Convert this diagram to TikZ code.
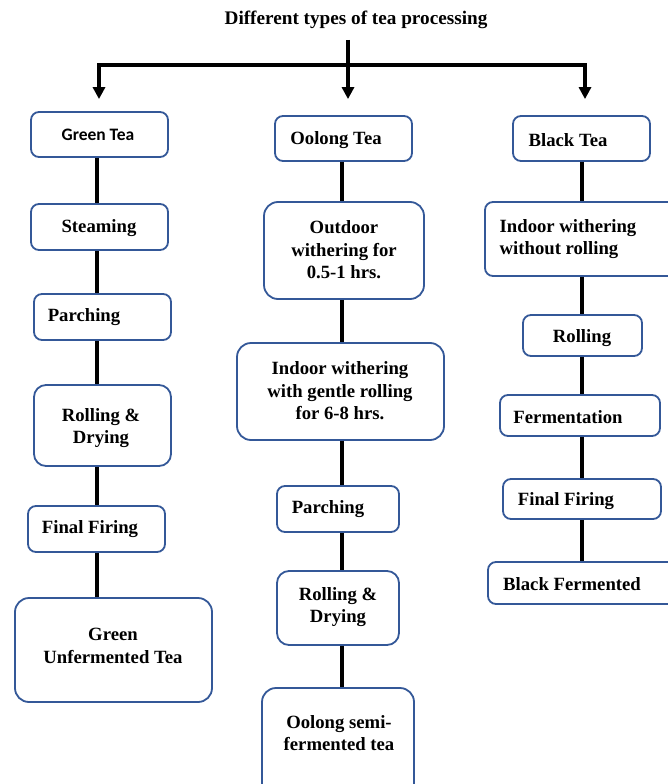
\documentclass[tikz,border=0pt]{standalone}
\usepackage{fontspec}
\setmainfont{Liberation Serif}
\newfontfamily\carlfont{Carlito}
\usetikzlibrary{arrows.meta}
\definecolor{boxblue}{RGB}{52,88,152}
\begin{document}
\begin{tikzpicture}[x=1pt,y=-1pt,
  box/.style={draw=boxblue,line width=1.8pt,rounded corners=8pt,fill=white,inner sep=0pt},
  bigbox/.style={box,rounded corners=14pt},
  lbl/.style={font=\bfseries\fontsize{18.7}{22.5}\selectfont,inner sep=0pt,align=center,yshift=-2pt},
  conn/.style={line width=3.6pt,black},
  arr/.style={conn,-{Triangle[length=12pt,width=12pt]}}]
\useasboundingbox (0,0) rectangle (668,784);
% title
\node[lbl,font=\bfseries\fontsize{19.2}{22}\selectfont] (title) at (356,18) {Different types of tea processing};
\coordinate (t0) at (348,40);
\coordinate (hub) at (348,65);
\coordinate (hl) at (99,65);
\coordinate (hr) at (585,65);
\coordinate (gx) at (97,0);
\coordinate (ox) at (342,0);
\coordinate (bx) at (582,0);
% green column boxes
\node[box,minimum width=137pt,minimum height=45pt] (gtea) at (99.5,134.5) {};
\node[box,minimum width=137pt,minimum height=46pt] (gsteam) at (99.5,227) {};
\node[box,minimum width=137pt,minimum height=46pt] (gparch) at (102.5,317) {};
\node[bigbox,rounded corners=12pt,minimum width=137pt,minimum height=81pt] (groll) at (102.5,425.5) {};
\node[box,minimum width=137pt,minimum height=46pt] (gfire) at (96.5,529) {};
\node[bigbox,minimum width=197pt,minimum height=104pt] (gfinal) at (113.5,650) {};
% oolong column boxes
\node[box,minimum width=137pt,minimum height=45pt] (otea) at (343.5,138.5) {};
\node[bigbox,minimum width=160pt,minimum height=97pt] (oout) at (344,250.5) {};
\node[bigbox,minimum width=207pt,minimum height=97pt] (oin) at (340.5,391.5) {};
\node[box,minimum width=122pt,minimum height=46pt] (oparch) at (338,509) {};
\node[bigbox,rounded corners=12pt,minimum width=122pt,minimum height=74pt] (oroll) at (338,608) {};
\node[bigbox,minimum width=152pt,minimum height=122pt] (ofinal) at (338,749) {};
% black column boxes
\node[box,minimum width=137pt,minimum height=45pt] (btea) at (581.5,138.5) {};
\node[box,minimum width=195pt,minimum height=74pt] (bin) at (582.5,239) {};
\node[box,minimum width=119pt,minimum height=41pt] (broll) at (582.5,335.5) {};
\node[box,minimum width=160pt,minimum height=41pt] (bferm) at (580,415.5) {};
\node[box,minimum width=158pt,minimum height=40pt] (bfire) at (582,499) {};
\node[box,minimum width=202pt,minimum height=42pt] (bfinal) at (589,583) {};
% connectors
\draw[conn] (t0) -- (hub);
\draw[conn,line cap=rect] (hl) -- (hr);
\draw[arr,shorten >=12pt] (hl) -- (gtea.north -| hl);
\draw[arr,shorten >=16pt] (hub) -- (otea.north -| hub);
\draw[arr,shorten >=16pt] (hr) -- (btea.north -| hr);
\draw[conn] (gtea.south -| gx) -- (gsteam.north -| gx);
\draw[conn] (gsteam.south -| gx) -- (gparch.north -| gx);
\draw[conn] (gparch.south -| gx) -- (groll.north -| gx);
\draw[conn] (groll.south -| gx) -- (gfire.north -| gx);
\draw[conn] (gfire.south -| gx) -- (gfinal.north -| gx);
\draw[conn] (otea.south -| ox) -- (oout.north -| ox);
\draw[conn] (oout.south -| ox) -- (oin.north -| ox);
\draw[conn] (oin.south -| ox) -- (oparch.north -| ox);
\draw[conn] (oparch.south -| ox) -- (oroll.north -| ox);
\draw[conn] (oroll.south -| ox) -- (ofinal.north -| ox);
\draw[conn] (btea.south -| bx) -- (bin.north -| bx);
\draw[conn] (bin.south -| bx) -- (broll.north -| bx);
\draw[conn] (broll.south -| bx) -- (bferm.north -| bx);
\draw[conn] (bferm.south -| bx) -- (bfire.north -| bx);
\draw[conn] (bfire.south -| bx) -- (bfinal.north -| bx);
% labels
\node[lbl,font=\carlfont\bfseries\fontsize{17.5}{20}\selectfont] (lgtea) at (98,133) {Green Tea};
\node[lbl] (lgsteam) at (99,226) {Steaming};
\node[lbl] (lgparch) at (84,315) {Parching};
\node[lbl] (lgroll) at (101,426) {Rolling \&\\Drying};
\node[lbl] (lgfire) at (90,527) {Final Firing};
\node[lbl] (lgfinal) at (113,644) {Green\\Unfermented Tea};
\node[lbl] (lotea) at (336,138) {Oolong Tea};
\node[lbl] (loout) at (344,248) {Outdoor\\withering for\\0.5-1 hrs.};
\node[lbl] (loin) at (340,389) {Indoor withering\\with gentle rolling\\for 6-8 hrs.};
\node[lbl] (loparch) at (328,507) {Parching};
\node[lbl] (loroll) at (338,605) {Rolling \&\\Drying};
\node[lbl] (lofinal) at (339,731) {Oolong semi-\\fermented tea};
\node[lbl] (lbtea) at (568,138) {Black Tea};
\node[lbl,align=left] (lbin) at (568,237) {Indoor withering\\without rolling};
\node[lbl] (lbroll) at (582,336) {Rolling};
\node[lbl] (lbferm) at (568,415) {Fermentation};
\node[lbl] (lbfire) at (566,499) {Final Firing};
\node[lbl] (lbfinal) at (572,582) {Black Fermented};
\end{tikzpicture}
\end{document}
